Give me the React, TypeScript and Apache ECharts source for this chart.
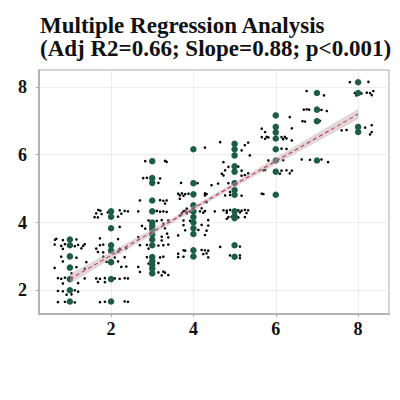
import React, { useEffect, useRef } from "react";
import * as echarts from "echarts";

const titleLines = ["Multiple Regression Analysis", "(Adj R2=0.66; Slope=0.88; p<0.001)"];
const tickValues = [2, 4, 6, 8];

// Observed (group) points, green
const greenPoints: [number, number][] = [
  [1, 3.5], [1, 3.33], [1, 3.0], [1, 2.67], [1, 2.33], [1, 2.0], [1, 1.67],
  [2, 4.33], [2, 4.17], [2, 3.83], [2, 3.33], [2, 3.17], [2, 2.83], [2, 2.33], [2, 1.67],
  [3, 5.81], [3, 5.31], [3, 5.17], [3, 4.65], [3, 4.33], [3, 4.0], [3, 3.9], [3, 3.8], [3, 3.65], [3, 3.5], [3, 3.33], [3, 2.98], [3, 2.86], [3, 2.75], [3, 2.64], [3, 2.5],
  [4, 6.16], [4, 5.16], [4, 4.83], [4, 4.51], [4, 4.33], [4, 4.16], [4, 4.0], [4, 3.83], [4, 3.66], [4, 3.18], [4, 3.0],
  [5, 6.32], [5, 6.16], [5, 5.98], [5, 5.66], [5, 5.5], [5, 5.16], [5, 4.96], [5, 4.82], [5, 4.33], [5, 4.18], [5, 4.13], [5, 3.33], [5, 2.99],
  [6, 7.16], [6, 6.82], [6, 6.66], [6, 6.48], [6, 6.16], [6, 5.83], [6, 5.5], [6, 4.82],
  [7, 7.82], [7, 7.33], [7, 6.99], [7, 5.83],
  [8, 8.14], [8, 7.82], [8, 6.82], [8, 6.67],
];

// Jittered raw observations, black
const blackPoints: [number, number][] = [
  // around x = 1
  [0.67, 3.52], [0.83, 3.48], [1.16, 3.5], [0.63, 3.35], [0.79, 3.31], [0.88, 3.36], [1.12, 3.3], [1.2, 3.34],
  [1.32, 3.31], [1.36, 3.36], [0.83, 3.22], [1.28, 3.24], [0.79, 2.99], [1.16, 2.96], [0.83, 2.85], [1.4, 2.83],
  [0.63, 2.66], [1.16, 2.68], [1.36, 2.64], [0.71, 2.36], [0.79, 2.34], [0.88, 2.37], [1.36, 2.35], [0.83, 2.2],
  [1.2, 2.21], [0.71, 1.98], [0.83, 1.97], [1.12, 2.0], [1.2, 1.96], [0.92, 1.87], [1.04, 1.88], [0.71, 1.65],
  [0.88, 1.66], [1.12, 1.64], [0.64, 3.49], [1.04, 2.5],
  // around x = 2
  [1.69, 4.37], [1.74, 4.35], [2.21, 4.36], [2.33, 4.34], [1.64, 4.27], [1.77, 4.25], [2.25, 4.26], [1.6, 4.16],
  [1.68, 4.15], [2.17, 4.17], [2.21, 3.87], [1.73, 3.53], [2.17, 3.51], [1.73, 3.33], [1.81, 3.35], [1.64, 3.23],
  [2.21, 3.22], [2.37, 3.24], [1.68, 3.13], [1.81, 3.12], [2.17, 3.14], [1.81, 2.99], [2.09, 2.97], [2.33, 2.98],
  [1.89, 2.84], [2.17, 2.85], [2.25, 2.69], [2.37, 2.7], [1.64, 2.35], [1.73, 2.34], [1.85, 2.36], [2.09, 2.35],
  [2.21, 2.34], [2.33, 2.36], [2.41, 2.35], [1.68, 2.25], [1.85, 2.24], [1.73, 1.65], [1.85, 1.66], [2.33, 1.67],
  [2.41, 1.66], [2.41, 4.33], [1.92, 4.3],
  // around x = 3
  [2.83, 5.81], [2.97, 5.8], [3.31, 5.82], [3.35, 5.79], [2.78, 5.31], [2.87, 5.32], [3.19, 5.3], [3.15, 5.17],
  [2.7, 4.65], [3.19, 4.66], [3.27, 4.64], [3.35, 4.65], [3.31, 4.56], [2.66, 4.33], [3.11, 4.34], [3.19, 4.32],
  [3.27, 4.33], [3.35, 4.31], [2.91, 4.06], [3.11, 4.05], [3.23, 4.07], [3.39, 4.06], [3.03, 3.97], [3.27, 3.96],
  [2.83, 3.82], [3.31, 3.83], [2.66, 3.57], [3.23, 3.58], [3.39, 3.56], [3.23, 3.47], [2.7, 3.33], [2.87, 3.34],
  [3.15, 3.32], [3.27, 3.33], [3.39, 3.35], [2.91, 3.23], [2.87, 2.98], [3.19, 2.97], [3.27, 2.99], [2.91, 2.79],
  [3.15, 2.8], [2.66, 2.69], [2.7, 2.54], [3.15, 2.53], [3.27, 2.55], [3.31, 2.52], [3.23, 2.44], [3.39, 2.45],
  [2.75, 3.9], [3.36, 3.67],
  // around x = 4
  [4.28, 6.21], [3.63, 4.85], [3.72, 4.86], [3.8, 4.84], [3.88, 4.85], [4.28, 4.86], [4.32, 4.84], [3.67, 4.8],
  [3.76, 4.79], [4.28, 4.8], [3.67, 4.7], [4.32, 4.6], [3.84, 4.41], [4.2, 4.42], [3.76, 4.33], [3.8, 4.34],
  [3.92, 4.32], [4.16, 4.33], [4.28, 4.34], [4.52, 4.33], [3.72, 4.28], [3.84, 4.27], [4.24, 4.29], [3.67, 4.21],
  [3.76, 4.06], [3.92, 4.05], [4.36, 4.07], [3.76, 3.92], [4.2, 3.93], [4.36, 3.91], [3.8, 3.77], [4.12, 3.78],
  [4.32, 3.76], [3.63, 3.62], [4.28, 3.63], [3.76, 3.18], [3.8, 3.17], [4.2, 3.19], [4.28, 3.18], [4.36, 3.17],
  [3.63, 3.08], [4.24, 3.07], [4.32, 3.09], [3.63, 2.98], [3.76, 2.99], [4.36, 2.97], [4.1, 5.16], [3.7, 5.17],
  // around x = 5
  [4.65, 6.37], [5.33, 6.36], [5.25, 6.28], [5.17, 6.13], [5.37, 5.98], [4.73, 5.78], [4.85, 5.64], [5.09, 5.65],
  [4.77, 5.54], [5.17, 5.53], [4.69, 5.44], [5.33, 5.45], [4.73, 5.39], [5.17, 5.38], [5.25, 5.4], [4.6, 5.15],
  [4.85, 5.16], [4.44, 5.1], [4.89, 4.9], [4.77, 4.8], [4.89, 4.81], [5.17, 4.79], [4.73, 4.36], [4.81, 4.35],
  [4.89, 4.37], [5.09, 4.36], [5.17, 4.35], [5.25, 4.37], [5.33, 4.36], [4.81, 4.29], [5.13, 4.3], [5.29, 4.28],
  [4.85, 4.16], [4.93, 4.17], [5.09, 4.15], [5.25, 4.16], [4.81, 4.11], [4.65, 3.28], [5.13, 3.29], [4.89, 3.03],
  [5.13, 2.95], [5.13, 3.03],
  // around x = 6
  [6.34, 7.11], [5.66, 6.77], [6.39, 6.78], [5.74, 6.67], [5.66, 6.52], [5.78, 6.53], [5.82, 6.51], [6.14, 6.52],
  [6.22, 6.53], [5.74, 6.47], [6.18, 6.46], [6.26, 6.48], [6.39, 6.42], [6.14, 6.18], [6.26, 6.17], [5.82, 5.83],
  [6.18, 5.84], [5.7, 5.54], [5.74, 5.55], [6.14, 5.53], [6.26, 5.54], [6.39, 5.53], [6.1, 5.44], [6.34, 5.45],
  [5.66, 4.85], [5.7, 4.84],
  // around x = 7
  [6.75, 7.88], [7.17, 7.75], [6.68, 7.33], [6.75, 7.34], [6.81, 7.33], [7.11, 7.32], [7.24, 7.29], [6.65, 6.99],
  [6.71, 6.98], [7.07, 7.0], [6.63, 5.86], [6.83, 5.85], [7.11, 5.86], [7.27, 5.78],
  // around x = 8
  [7.8, 8.14], [8.25, 8.15], [8.37, 7.88], [7.92, 7.82], [8.08, 7.81], [8.21, 7.83], [8.29, 7.82], [7.96, 7.75],
  [8.33, 7.76], [8.33, 6.87], [8.17, 6.8], [7.6, 6.72], [7.72, 6.73], [8.33, 6.67], [8.29, 6.6],
];

// Fitted line and its confidence band
const fitX = [1, 2, 3, 4, 5, 6, 7, 8];
const fitY = [2.33, 3.03, 3.72, 4.42, 5.12, 5.81, 6.5, 7.2];
const bandLower = [2.19, 2.92, 3.64, 4.35, 5.04, 5.71, 6.38, 7.05];
const bandUpper = [2.48, 3.14, 3.81, 4.49, 5.19, 5.91, 6.63, 7.35];

const SERIF = "'Liberation Serif', 'DejaVu Serif', serif";

export default function App() {
  const ref = useRef<HTMLDivElement>(null);
  useEffect(() => {
    if (!ref.current) return;
    const chart = echarts.init(ref.current, null, { renderer: "svg" });
    const labelFmt = (v: number) => String(v);
    chart.setOption({
      animation: false,
      backgroundColor: "#ffffff",
      title: {
        text: titleLines.join("\n"),
        left: 35,
        top: 9,
        textStyle: {
          fontFamily: SERIF,
          fontWeight: "bold",
          fontSize: 23,
          lineHeight: 23,
          color: "#111111",
        },
      },
      grid: {
        left: 39,
        right: 11,
        top: 70,
        bottom: 86,
        show: true,
        borderColor: "#c8c8c8",
        borderWidth: 1.5,
        backgroundColor: "transparent",
      },
      xAxis: {
        type: "value",
        min: 0.25,
        max: 8.75,
        splitNumber: 8,
        minInterval: 1,
        maxInterval: 1,
        axisLine: { show: true, lineStyle: { color: "#a8a8a8", width: 1.5 } },
        axisTick: { show: true, customValues: tickValues, length: 3, lineStyle: { color: "#a8a8a8" } },
        axisLabel: {
          customValues: tickValues,
          formatter: labelFmt,
          margin: 6,
          fontFamily: SERIF,
          fontWeight: "bold",
          fontSize: 18,
          color: "#111111",
        },
        splitLine: { show: true, lineStyle: { color: "#ececec", width: 1 } },
      },
      yAxis: {
        type: "value",
        min: 1.3,
        max: 8.5,
        splitNumber: 7,
        minInterval: 1,
        maxInterval: 1,
        axisLine: { show: true, lineStyle: { color: "#a8a8a8", width: 1.5 } },
        axisTick: { show: true, customValues: tickValues, length: 3, lineStyle: { color: "#a8a8a8" } },
        axisLabel: {
          customValues: tickValues,
          formatter: labelFmt,
          margin: 12,
          fontFamily: SERIF,
          fontWeight: "bold",
          fontSize: 18,
          color: "#111111",
        },
        splitLine: { show: true, lineStyle: { color: "#ececec", width: 1 } },
      },
      series: [
        {
          type: "scatter",
          data: blackPoints,
          symbolSize: 2.6,
          itemStyle: { color: "#000000", opacity: 1 },
          z: 2,
        },
        {
          type: "scatter",
          data: greenPoints,
          symbolSize: 6.5,
          itemStyle: { color: "#1b5e45", opacity: 1 },
          z: 3,
        },
        {
          type: "custom",
          data: [[fitX[0], bandLower[0]]],
          z: 4,
          renderItem: (params: any, api: any) => {
            if (params.dataIndex !== 0) return null;
            const pts: number[][] = [];
            for (let i = 0; i < fitX.length; i++) pts.push(api.coord([fitX[i], bandUpper[i]]));
            for (let i = fitX.length - 1; i >= 0; i--) pts.push(api.coord([fitX[i], bandLower[i]]));
            return {
              type: "polygon",
              shape: { points: pts },
              style: { fill: "rgba(195,172,178,0.5)" },
            };
          },
        },
        {
          type: "line",
          data: fitX.map((x, i) => [x, fitY[i]]),
          showSymbol: false,
          symbol: "none",
          lineStyle: { color: "#b23a55", width: 1.1, type: [4, 3] },
          z: 5,
        },
      ],
    });
    return () => chart.dispose();
  }, []);
  return (
    <div
      ref={ref}
      style={{ position: "fixed", left: 0, top: 0, width: 400, height: 400 }}
    />
  );
}
